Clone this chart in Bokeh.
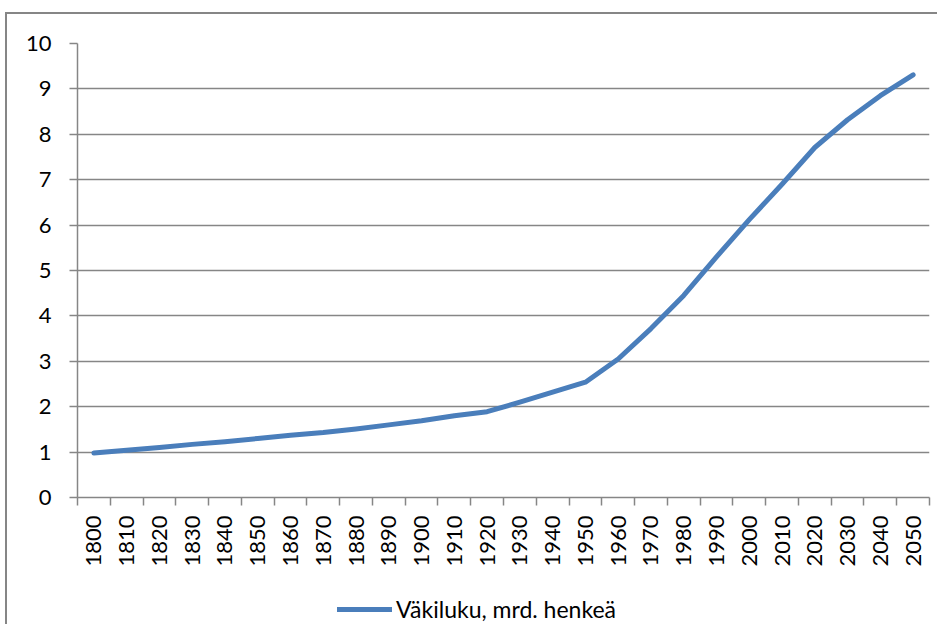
import math
from bokeh.plotting import figure
from bokeh.layouts import column
from bokeh.models import Range1d, FixedTicker, Legend, LegendItem, ColumnDataSource
from bokeh.embed import file_html
from bokeh.resources import INLINE

# ---- data ----
years = ["1800", "1810", "1820", "1830", "1840", "1850", "1860", "1870", "1880",
         "1890", "1900", "1910", "1920", "1930", "1940", "1950", "1960", "1970",
         "1980", "1990", "2000", "2010", "2020", "2030", "2040", "2050"]
population = [0.98, 1.04, 1.10, 1.17, 1.23, 1.30, 1.37, 1.43, 1.51, 1.60,
              1.69, 1.80, 1.89, 2.10, 2.32, 2.54, 3.05, 3.72, 4.45, 5.30,
              6.12, 6.90, 7.71, 8.32, 8.85, 9.31]
y_ticks = [0, 1, 2, 3, 4, 5, 6, 7, 8, 9, 10]
series_name = "Väkiluku, mrd. henkeä"

FONT = "Lato"
GRAY = "#868686"
BLUE = "#4A7EBB"

n = len(years)
x_centers = [i + 0.5 for i in range(n)]
x_bounds = list(range(n + 1))
source = ColumnDataSource(data=dict(x=x_centers, y=population, year=years))

p = figure(width=930, height=560,
           x_range=Range1d(0, n), y_range=Range1d(y_ticks[0], y_ticks[-1]),
           output_backend="svg", toolbar_location=None,
           min_border_left=70, min_border_right=8,
           min_border_top=29, min_border_bottom=77)
p.outline_line_color = None
p.background_fill_color = "white"
p.border_fill_color = "white"

# x axis
xa = p.xaxis[0]
xa.ticker = FixedTicker(ticks=x_centers, minor_ticks=x_bounds)
xa.major_label_overrides = {c: y for c, y in zip(x_centers, years)}
xa.major_tick_line_color = None
xa.major_tick_out = 8
xa.major_tick_in = 0
xa.minor_tick_out = 8
xa.minor_tick_in = 0
xa.minor_tick_line_color = GRAY
xa.minor_tick_line_width = 1.5
xa.axis_line_color = GRAY
xa.axis_line_width = 1.5
xa.major_label_orientation = math.pi / 2
xa.major_label_standoff = 10
xa.major_label_text_font = FONT
xa.major_label_text_font_size = "22px"
xa.major_label_text_color = "black"

# y axis
ya = p.yaxis[0]
ya.ticker = FixedTicker(ticks=y_ticks)
ya.major_tick_out = 8
ya.major_tick_in = 0
ya.major_tick_line_color = GRAY
ya.major_tick_line_width = 1.5
ya.minor_tick_line_color = None
ya.axis_line_color = GRAY
ya.axis_line_width = 1.5
ya.major_label_standoff = 18
ya.major_label_text_font = FONT
ya.major_label_text_font_size = "22px"
ya.major_label_text_color = "black"

p.xgrid.grid_line_color = None
p.ygrid.ticker = FixedTicker(ticks=y_ticks)
p.ygrid.grid_line_color = GRAY
p.ygrid.grid_line_width = 1.5

p.line(x="x", y="y", source=source, line_width=5, line_color=BLUE,
       line_cap="round", line_join="round")

# ---- legend strip below the chart (its ranges keep the series out of view;
#      the renderer only supplies the legend swatch) ----
lf = figure(width=930, height=50, x_range=Range1d(-2, -1), y_range=Range1d(-2, -1),
            output_backend="svg", toolbar_location=None, title=None,
            x_axis_location=None, y_axis_location=None, min_border=0)
lf.outline_line_color = None
lf.xgrid.visible = False
lf.ygrid.visible = False
leg_r = lf.line(x="x", y="y", source=source, line_width=5, line_color=BLUE,
                line_cap="round")

legend = Legend(items=[LegendItem(label=series_name, renderers=[leg_r])],
                orientation="horizontal", location=(260, 1),
                border_line_color=None, background_fill_alpha=0,
                label_text_font=FONT, label_text_font_size="23px",
                label_text_color="black",
                glyph_width=55, glyph_height=20, label_standoff=4,
                margin=0, padding=0)
lf.add_layout(legend, "center")

layout = column(p, lf, spacing=0,
                styles={"border-top": "2px solid #868686",
                        "border-left": "2px solid #868686",
                        "margin-top": "12px", "margin-left": "5px"})

open("out.html", "w").write(file_html(layout, INLINE))
